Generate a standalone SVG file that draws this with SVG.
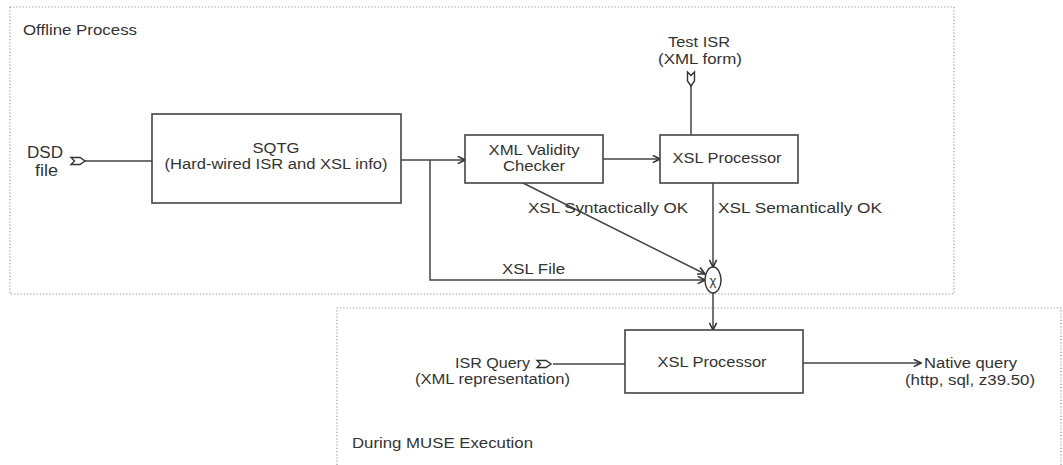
<svg xmlns="http://www.w3.org/2000/svg" width="1063" height="465" viewBox="0 0 1063 465">
<style>
.bg{fill:#ffffff}
.frame{fill:none;stroke:#9a9a9a;stroke-width:1.2;stroke-dasharray:1.2 2}
.box{fill:#ffffff;stroke:#444;stroke-width:1.6}
.ln{fill:none;stroke:#444;stroke-width:1.5}
.sym{fill:#ffffff;stroke:#333;stroke-width:1.4}
text{font-family:"Liberation Sans",Arial,sans-serif;fill:#333;font-size:14px}
.m{text-anchor:middle}
.big{font-size:16px}
</style>
<defs>
<marker id="arr" viewBox="0 0 10 10" refX="9" refY="5" markerWidth="9" markerHeight="9" markerUnits="userSpaceOnUse" orient="auto">
<path d="M1,1 L9,5 L1,9" fill="none" stroke="#333" stroke-width="1.8"/>
</marker>
<path id="tail" d="M0,-3.5 L9,-3.5 L14,0 L9,3.5 L0,3.5 L3.5,0 Z"/>
</defs>
<rect class="bg" x="0" y="0" width="1063" height="465"/>

<g id="frames">
<rect class="frame" x="10" y="7" width="944" height="287"/>
<polyline class="frame" points="337,465 337,308 1061,308 1061,465"/>
<text x="23" y="35" textLength="114" lengthAdjust="spacingAndGlyphs">Offline Process</text>
<text x="352" y="448" textLength="181" lengthAdjust="spacingAndGlyphs">During MUSE Execution</text>
</g>

<g id="connectors">
<line class="ln" x1="85" y1="161" x2="152" y2="161"/>
<line class="ln" x1="401" y1="160" x2="465" y2="160" marker-end="url(#arr)"/>
<polyline class="ln" points="430,160 430,280 705,280" marker-end="url(#arr)"/>
<line class="ln" x1="603" y1="159" x2="660" y2="159" marker-end="url(#arr)"/>
<line class="ln" x1="691" y1="85" x2="691" y2="135"/>
<line class="ln" x1="713" y1="183" x2="713" y2="267" marker-end="url(#arr)"/>
<line class="ln" x1="523" y1="183" x2="705" y2="274" marker-end="url(#arr)"/>
<line class="ln" x1="713" y1="293" x2="713" y2="330" marker-end="url(#arr)"/>
<line class="ln" x1="553" y1="364" x2="625" y2="364"/>
<line class="ln" x1="803" y1="363" x2="921" y2="363" marker-end="url(#arr)"/>
<text x="528" y="213" textLength="160" lengthAdjust="spacingAndGlyphs">XSL Syntactically OK</text>
<text x="718" y="213" textLength="164" lengthAdjust="spacingAndGlyphs">XSL Semantically OK</text>
<text x="502" y="274" textLength="63" lengthAdjust="spacingAndGlyphs">XSL File</text>
</g>

<g id="dsd-file">
<use href="#tail" class="sym" x="71" y="161"/>
<text class="big" x="27" y="158" textLength="36" lengthAdjust="spacingAndGlyphs">DSD</text>
<text class="big" x="35" y="176" textLength="23" lengthAdjust="spacingAndGlyphs">file</text>
</g>

<g id="sqtg">
<rect class="box" x="152" y="114" width="249" height="89"/>
<text class="m" x="276" y="153" textLength="47" lengthAdjust="spacingAndGlyphs">SQTG</text>
<text class="m" x="276" y="169" textLength="223" lengthAdjust="spacingAndGlyphs">(Hard-wired ISR and XSL info)</text>
</g>

<g id="xml-validity-checker">
<rect class="box" x="465" y="135" width="138" height="48"/>
<text class="m" x="534" y="155" textLength="91" lengthAdjust="spacingAndGlyphs">XML Validity</text>
<text class="m" x="534" y="171" textLength="62" lengthAdjust="spacingAndGlyphs">Checker</text>
</g>

<g id="xsl-processor-offline">
<rect class="box" x="660" y="135" width="138" height="48"/>
<text class="m" x="727" y="163" textLength="109" lengthAdjust="spacingAndGlyphs">XSL Processor</text>
</g>

<g id="test-isr">
<use href="#tail" class="sym" transform="translate(691,72) rotate(90)"/>
<text class="m" x="699" y="47" textLength="62" lengthAdjust="spacingAndGlyphs">Test ISR</text>
<text class="m" x="700" y="64" textLength="84" lengthAdjust="spacingAndGlyphs">(XML form)</text>
</g>

<g id="join">
<ellipse class="sym" cx="713" cy="280" rx="8" ry="13"/>
<text class="m" x="713" y="285" style="font-size:13px">χ</text>
</g>

<g id="xsl-processor-runtime">
<rect class="box" x="625" y="330" width="178" height="63"/>
<text class="m" x="712" y="367" textLength="109" lengthAdjust="spacingAndGlyphs">XSL Processor</text>
</g>

<g id="isr-query">
<use href="#tail" class="sym" x="537" y="364"/>
<text x="455" y="368" textLength="75" lengthAdjust="spacingAndGlyphs">ISR Query</text>
<text x="415" y="384" textLength="155" lengthAdjust="spacingAndGlyphs">(XML representation)</text>
</g>

<g id="native-query">
<text x="924" y="368" textLength="93" lengthAdjust="spacingAndGlyphs">Native query</text>
<text x="905" y="385" textLength="130" lengthAdjust="spacingAndGlyphs">(http, sql, z39.50)</text>
</g>
</svg>
